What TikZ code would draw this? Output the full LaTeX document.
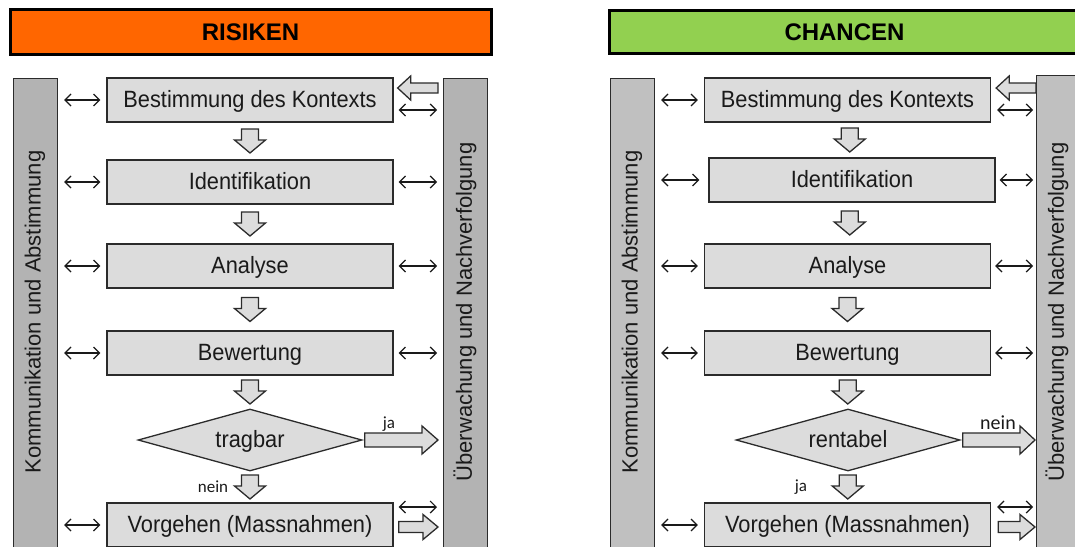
\documentclass[tikz,border=0pt]{standalone}
\usepackage{fontspec}
\usepackage{graphicx}
\setmainfont{Liberation Sans}
\newfontfamily\lblfont{Carlito}
\usetikzlibrary{arrows.meta,calc,shapes.geometric}
\definecolor{orng}{HTML}{FF6600}
\definecolor{grn}{HTML}{92D050}
\definecolor{barL}{HTML}{B3B3B3}
\definecolor{barR}{HTML}{C0C0C0}
\definecolor{boxfill}{HTML}{DCDCDC}
\definecolor{edge}{HTML}{2B2B2B}
\definecolor{txt}{HTML}{1A1A1A}
\newcommand\vst[1]{\scalebox{1}[1.08]{#1}}
\tikzset{
 titlebar/.style={draw=black, line width=3pt, minimum height=45pt, inner sep=0pt,
   font=\fontsize{24}{28}\selectfont\bfseries, text=black, text height=17pt, text depth=0pt},
 sidebar/.style={draw=edge, line width=1.2pt, minimum width=44pt, minimum height=480pt, inner sep=0pt, anchor=north west},
 bartext/.style={rotate=90, inner sep=0pt, font=\fontsize{22}{26}\selectfont, text=txt},
 stepbox/.style={draw=edge, fill=boxfill, line width=1.3pt, minimum width=286pt, minimum height=44pt, inner sep=0pt,
   font=\fontsize{21.8}{24}\selectfont, text=txt, text height=19pt, text depth=4pt},
 decision/.style={diamond, aspect=3.6, draw=edge, fill=boxfill, line width=1.3pt, minimum width=224pt, minimum height=62pt, inner sep=0pt,
   font=\fontsize{21.8}{24}\selectfont, text=txt, text height=19pt, text depth=4pt},
 dbl/.style={draw=txt, line width=1.2pt, {Straight Barb[length=6pt,width=12pt]}-{Straight Barb[length=6pt,width=12pt]}},
 blk/.style={draw=edge, fill=boxfill, line width=1.3pt, line join=miter},
 lbl/.style={inner sep=0pt, text=txt},
}
\newcommand\blkdown[1]{\draw[blk] (#1) ++(-8.5,-12) -- ++(17,0) -- ++(0,11) -- ++(7,0) -- ++(-15.5,13) -- ++(-15.5,-13) -- ++(7,0) -- cycle;}
\newcommand\blkarrow[5]{\draw[blk] ($(#1)+(0,-#4)$) -- ($(#2)+(#3,-#4)$) -- ($(#2)+(#3,-#5)$) -- (#2) -- ($(#2)+(#3,#5)$) -- ($(#2)+(#3,#4)$) -- ($(#1)+(0,#4)$) -- cycle;}
\begin{document}
\begin{tikzpicture}[x=1pt,y=-1pt]
\useasboundingbox (0,0) rectangle (1075,546);
% ================= RISIKEN =================
\node[titlebar, fill=orng, minimum width=481pt] (t1) at (250.5,31.5) {RISIKEN};
\node[sidebar, fill=barL] (K1) at (13,78) {};
\node[bartext] (K1t) at (35,312) {Kommunikation und Abstimmung};
\node[sidebar, fill=barL] (U1) at (443,78) {};
\node[bartext] (U1t) at (465,312) {Überwachung und Nachverfolgung};

\node[stepbox] (a1) at (250,100) {\vst{Bestimmung des Kontexts}};
\node[stepbox] (a2) at (250,182) {\vst{Identifikation}};
\node[stepbox] (a3) at (250,266) {\vst{Analyse}};
\node[stepbox] (a4) at (250,353) {\vst{Bewertung}};
\node[decision] (ad) at (250,440) {\vst{tragbar}};
\node[stepbox] (a5) at (250,525) {\vst{Vorgehen (Massnahmen)}};

\foreach \n in {a1,a2,a3,a4,a5}
  \draw[dbl] ($(\n.west -| K1.east)+(6,0)$) -- ($(\n.west)+(-6,0)$);
\foreach \n in {a2,a3,a4}
  \draw[dbl] ($(\n.east)+(5,0)$) -- ($(\n.east -| U1.west)+(-6,0)$);

\blkdown{$(a1.south)!0.5!(a2.north)$}
\blkdown{$(a2.south)!0.5!(a3.north)$}
\blkdown{$(a3.south)!0.5!(a4.north)$}
\blkdown{$(a4.south)!0.5!(ad.north)$}
\blkdown{$(ad.south)!0.5!(a5.north)$}

\coordinate (a1ts) at ($(a1.east -| U1.west)+(-5,-12)$);
\coordinate (a1te) at ($(a1.east)+(4,-12)$);
\blkarrow{a1ts}{a1te}{13}{5}{12}
\draw[dbl] ($(a1.east)+(5,10)$) -- ($(a1.east -| U1.west)+(-6,10)$);

\coordinate (jas) at ($(ad.east)+(2,0)$);
\coordinate (jae) at ($(ad.east -| U1.west)+(-5,0)$);
\blkarrow{jas}{jae}{-16}{7}{14}
\node[lbl, font=\lblfont\fontsize{17}{20}\selectfont] (ja1) at (389,424) {ja};
\node[lbl, font=\lblfont\fontsize{17}{20}\selectfont] (nein1) at (213,487) {nein};

\draw[dbl] ($(a5.east)+(5,-18)$) -- ($(a5.east -| U1.west)+(-6,-18)$);
\coordinate (a5s) at ($(a5.east)+(5,2)$);
\coordinate (a5e) at ($(a5.east -| U1.west)+(-5,2)$);
\blkarrow{a5s}{a5e}{-15}{5.5}{12.5}

% ================= CHANCEN =================
\node[titlebar, fill=grn, minimum width=471pt, minimum height=43pt] (t2) at (844.5,31.5) {CHANCEN};
\node[sidebar, fill=barR] (K2) at (610,78) {};
\node[bartext] (K2t) at (632,312) {Kommunikation und Abstimmung};
\node[sidebar, fill=barR] (U2) at (1036,75) {};
\node[bartext] (U2t) at (1057,312) {Überwachung und Nachverfolgung};

\node[stepbox] (b1) at (847.5,100) {\vst{Bestimmung des Kontexts}};
\node[stepbox] (b2) at (852,180) {\vst{Identifikation}};
\node[stepbox] (b3) at (847.5,266) {\vst{Analyse}};
\node[stepbox] (b4) at (847.5,353) {\vst{Bewertung}};
\node[decision] (bd) at (848,440) {\vst{rentabel}};
\node[stepbox] (b5) at (847.5,525) {\vst{Vorgehen (Massnahmen)}};

\foreach \n in {b1,b3,b4,b5}
  \draw[dbl] ($(\n.west -| K2.east)+(6,0)$) -- ($(\n.west)+(-6,0)$);
\draw[dbl] ($(b2.west -| K2.east)+(6,0)$) -- ($(b2.west)+(-9,0)$);
\foreach \n in {b2,b3,b4}
  \draw[dbl] ($(\n.east)+(4,0)$) -- ($(\n.east -| U2.west)+(-3,0)$);

\blkdown{$(b1.south)!0.5!(b2.north)$}
\blkdown{$(b2.south)!0.5!(b3.north)$}
\blkdown{$(b3.south)!0.5!(b4.north)$}
\blkdown{$(b4.south)!0.5!(bd.north)$}
\blkdown{$(bd.south)!0.5!(b5.north)$}

\coordinate (b1ts) at ($(b1.east -| U2.west)+(0,-12)$);
\coordinate (b1te) at ($(b1.east)+(5,-12)$);
\blkarrow{b1ts}{b1te}{13}{5}{12}
\draw[dbl] ($(b1.east)+(6,10)$) -- ($(b1.east -| U2.west)+(-3,10)$);

\coordinate (neins) at ($(bd.east)+(2,0)$);
\coordinate (neine) at ($(bd.east -| U2.west)+(-1,0)$);
\blkarrow{neins}{neine}{-15}{7}{14}
\node[lbl, font=\lblfont\fontsize{20}{24}\selectfont] (nein2) at (998,423) {nein};
\node[lbl, font=\lblfont\fontsize{17}{20}\selectfont] (ja2) at (801,487) {ja};

\draw[dbl] ($(b5.east)+(6,-18)$) -- ($(b5.east -| U2.west)+(-3,-18)$);
\coordinate (b5s) at ($(b5.east)+(7,2)$);
\coordinate (b5e) at ($(b5.east -| U2.west)+(-1,2)$);
\blkarrow{b5s}{b5e}{-15}{5.5}{12.5}
\end{tikzpicture}
\end{document}
